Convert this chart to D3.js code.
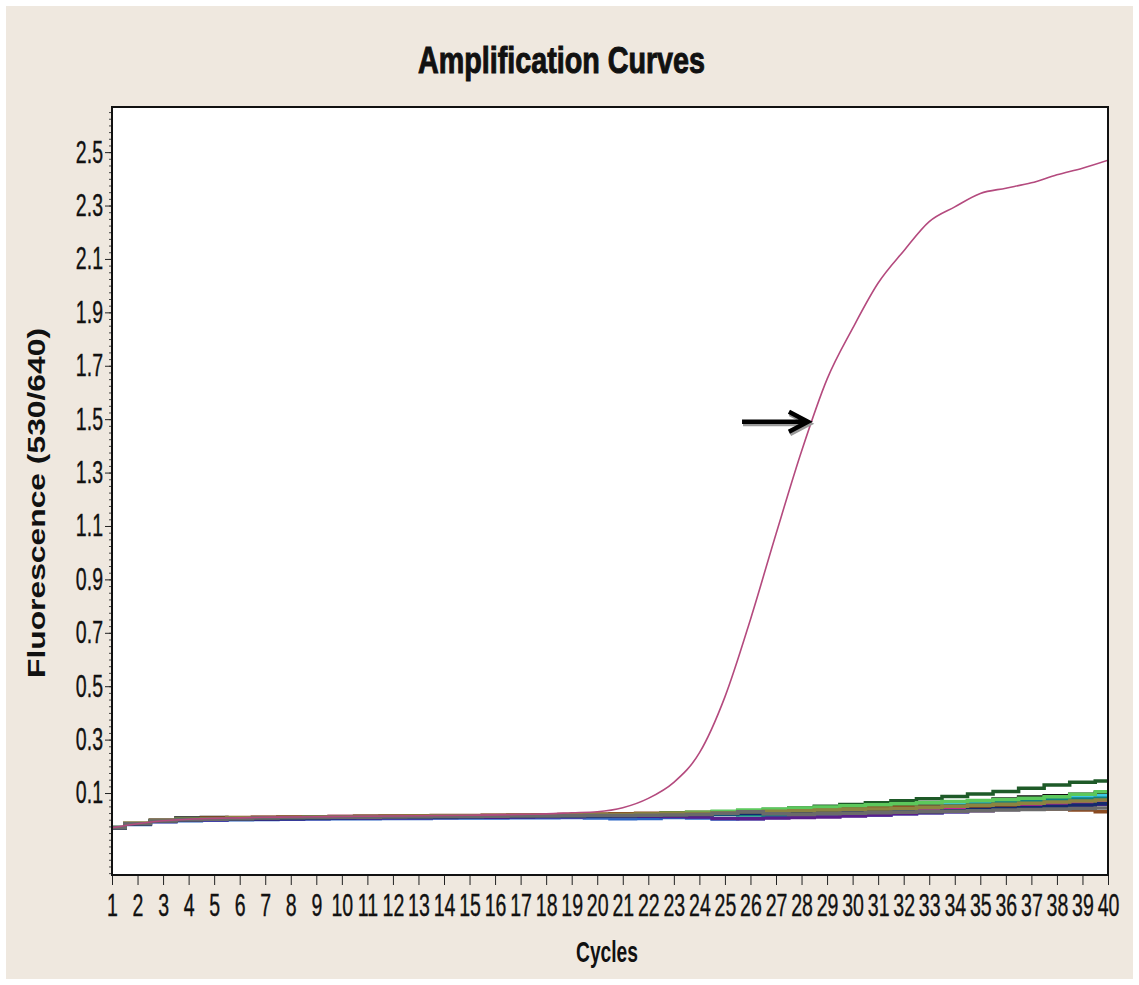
<!DOCTYPE html>
<html>
<head>
<meta charset="utf-8">
<script src="https://cdn.jsdelivr.net/npm/d3@7"></script>
<style>
  body { margin: 0; background: #fff; }
  svg { display: block; }
</style>
</head>
<body>
<svg width="1139" height="985"></svg>
<script>
// cycles on the x axis
var cycles = d3.range(1, 41);
// labelled y ticks
var yTicks = [0.1, 0.3, 0.5, 0.7, 0.9, 1.1, 1.3, 1.5, 1.7, 1.9, 2.1, 2.3, 2.5];

// the amplified sample (pink curve)
var positive = [-0.03, -0.015, -0.004, 0.002, 0.005, 0.007, 0.009, 0.01, 0.011, 0.012,
  0.013, 0.014, 0.015, 0.016, 0.017, 0.018, 0.02, 0.022, 0.026, 0.03,
  0.045, 0.08, 0.14, 0.25, 0.46, 0.75, 1.07, 1.38, 1.65, 1.84,
  2.01, 2.13, 2.24, 2.295, 2.345, 2.365, 2.385, 2.415, 2.44, 2.47];

// negative samples, near the baseline
var neg1 = [-0.03, -0.014, -0.004, 0.0, 0.002, 0.004, 0.005, 0.006, 0.006, 0.007, 0.008, 0.008, 0.009, 0.01, 0.01, 0.011, 0.012, 0.013, 0.014, 0.015, 0.017, 0.019, 0.022, 0.025, 0.029, 0.033, 0.038, 0.044, 0.05, 0.057, 0.064, 0.071, 0.079, 0.087, 0.096, 0.106, 0.118, 0.13, 0.14, 0.145];
var neg2 = [-0.032, -0.016, -0.002, 0.006, 0.008, 0.007, 0.006, 0.008, 0.009, 0.01, 0.012, 0.012, 0.011, 0.01, 0.012, 0.013, 0.014, 0.014, 0.015, 0.016, 0.018, 0.02, 0.022, 0.024, 0.026, 0.028, 0.03, 0.033, 0.036, 0.04, 0.044, 0.05, 0.056, 0.062, 0.07, 0.078, 0.085, 0.09, 0.095, 0.1];
var neg3 = [-0.03, -0.018, -0.008, -0.004, -0.002, 0.0, 0.001, 0.002, 0.003, 0.004, 0.004, 0.005, 0.005, 0.006, 0.006, 0.006, 0.007, 0.007, 0.008, 0.006, 0.004, 0.005, 0.008, 0.006, 0.003, 0.004, 0.008, 0.012, 0.015, 0.016, 0.018, 0.022, 0.026, 0.03, 0.04, 0.048, 0.052, 0.055, 0.06, 0.065];
var neg4 = [-0.028, -0.015, -0.005, 0.0, 0.003, 0.004, 0.005, 0.006, 0.007, 0.007, 0.008, 0.009, 0.01, 0.011, 0.011, 0.012, 0.012, 0.013, 0.013, 0.012, 0.012, 0.013, 0.016, 0.02, 0.028, 0.03, 0.032, 0.034, 0.036, 0.038, 0.04, 0.045, 0.05, 0.056, 0.062, 0.068, 0.074, 0.08, 0.085, 0.09];
var neg5 = [-0.03, -0.017, -0.007, -0.002, 0.0, 0.002, 0.003, 0.004, 0.005, 0.006, 0.006, 0.007, 0.007, 0.008, 0.009, 0.009, 0.01, 0.011, 0.011, 0.012, 0.012, 0.013, 0.012, 0.01, 0.005, 0.004, 0.006, 0.008, 0.01, 0.014, 0.018, 0.022, 0.026, 0.03, 0.034, 0.038, 0.045, 0.05, 0.054, 0.058];
var neg6 = [-0.031, -0.016, -0.006, 0.0, 0.004, 0.006, 0.008, 0.01, 0.011, 0.012, 0.012, 0.013, 0.014, 0.014, 0.015, 0.016, 0.016, 0.017, 0.017, 0.018, 0.018, 0.02, 0.021, 0.022, 0.022, 0.024, 0.024, 0.026, 0.028, 0.032, 0.035, 0.038, 0.042, 0.046, 0.05, 0.053, 0.056, 0.06, 0.062, 0.066];
var neg7 = [-0.029, -0.014, -0.003, 0.003, 0.006, 0.008, 0.009, 0.01, 0.011, 0.012, 0.013, 0.014, 0.015, 0.016, 0.016, 0.017, 0.018, 0.019, 0.02, 0.021, 0.022, 0.024, 0.026, 0.028, 0.03, 0.032, 0.034, 0.036, 0.04, 0.042, 0.045, 0.048, 0.05, 0.052, 0.05, 0.045, 0.042, 0.04, 0.036, 0.03];
var neg8 = [-0.03, -0.015, -0.004, 0.002, 0.004, 0.005, 0.006, 0.007, 0.008, 0.009, 0.01, 0.011, 0.011, 0.012, 0.012, 0.013, 0.014, 0.014, 0.015, 0.015, 0.016, 0.018, 0.02, 0.022, 0.02, 0.018, 0.02, 0.024, 0.028, 0.032, 0.036, 0.04, 0.046, 0.052, 0.058, 0.064, 0.07, 0.075, 0.078, 0.08];
var neg9 = [-0.03, -0.016, -0.005, 0.001, 0.003, 0.005, 0.006, 0.007, 0.008, 0.009, 0.01, 0.01, 0.011, 0.012, 0.013, 0.013, 0.014, 0.015, 0.016, 0.017, 0.018, 0.02, 0.024, 0.028, 0.032, 0.036, 0.04, 0.044, 0.048, 0.052, 0.056, 0.06, 0.064, 0.068, 0.072, 0.076, 0.08, 0.086, 0.095, 0.105];
var neg10 = [-0.032, -0.017, -0.006, -0.001, 0.002, 0.003, 0.004, 0.005, 0.006, 0.007, 0.008, 0.009, 0.01, 0.01, 0.011, 0.012, 0.012, 0.013, 0.014, 0.014, 0.015, 0.016, 0.018, 0.02, 0.022, 0.024, 0.026, 0.028, 0.03, 0.032, 0.03, 0.028, 0.03, 0.034, 0.038, 0.042, 0.046, 0.05, 0.055, 0.06];
var neg11 = [-0.029, -0.013, -0.003, 0.002, 0.005, 0.007, 0.008, 0.009, 0.01, 0.011, 0.012, 0.013, 0.014, 0.015, 0.015, 0.016, 0.017, 0.018, 0.019, 0.02, 0.02, 0.021, 0.022, 0.024, 0.026, 0.03, 0.032, 0.034, 0.036, 0.038, 0.04, 0.042, 0.046, 0.05, 0.054, 0.058, 0.062, 0.066, 0.07, 0.074];
var neg12 = [-0.03, -0.015, -0.005, 0.0, 0.002, 0.004, 0.006, 0.007, 0.008, 0.009, 0.009, 0.01, 0.011, 0.012, 0.012, 0.013, 0.014, 0.014, 0.015, 0.016, 0.016, 0.017, 0.018, 0.02, 0.024, 0.03, 0.022, 0.02, 0.022, 0.024, 0.026, 0.028, 0.03, 0.032, 0.034, 0.036, 0.038, 0.04, 0.042, 0.044];
var negatives = [neg1, neg2, neg3, neg4, neg5, neg6, neg7, neg8, neg9, neg10, neg11, neg12];
var negColors = ["#1e5a28", "#111111", "#2a64c4", "#3cc6e4", "#5a1e8c", "#c02890",
                 "#8a4a20", "#108080", "#5cc85c", "#142a6e", "#8c8440", "#6a6a6a"];

// annotation arrow: [cycle, fluorescence]
var arrowFrom = [25.67, 1.49];
var arrowTo = [28.25, 1.49];

var svg = d3.select("svg"),
    W = +svg.attr("width"),
    H = +svg.attr("height"),
    plot = {left: 112, top: 107, right: 1108, bottom: 875};

var x = d3.scaleLinear().domain([1, 40]).range([plot.left, plot.right]);
var y = d3.scaleLinear().domain([-0.207, 2.669]).range([plot.bottom, plot.top]);

// page frame
svg.append("rect").attr("x", 6).attr("y", 6)
  .attr("width", W - 12).attr("height", H - 12)
  .attr("fill", "#efe8df");

// plot area
svg.append("rect")
  .attr("x", plot.left).attr("y", plot.top)
  .attr("width", plot.right - plot.left).attr("height", plot.bottom - plot.top)
  .attr("fill", "#fff");

svg.append("defs").append("clipPath").attr("id", "clip")
  .append("rect")
  .attr("x", plot.left).attr("y", plot.top)
  .attr("width", plot.right - plot.left).attr("height", plot.bottom - plot.top);

var sx = 0.63; // squeeze for the narrow tick font

// x axis
var xAxis = svg.append("g")
  .attr("transform", "translate(0," + plot.bottom + ")")
  .call(d3.axisBottom(x).tickValues(cycles).tickSize(10).tickPadding(9).tickFormat(d3.format("d")));
xAxis.select(".domain").remove();
xAxis.selectAll("line").attr("stroke", "#222");
xAxis.selectAll("text")
  .attr("font-family", "Liberation Sans, Arial, sans-serif")
  .attr("font-size", 31)
  .attr("fill", "#111")
  .attr("stroke", "#111").attr("stroke-width", 0.4)
  .attr("transform", "scale(" + sx + ",1)");

// y axis, minor ticks first
var minor = d3.range(-0.2, 2.66, 0.025).map(function(v) { return +v.toFixed(3); });
var yMinor = svg.append("g")
  .attr("transform", "translate(" + plot.left + ",0)")
  .call(d3.axisLeft(y).tickValues(minor).tickSize(3).tickFormat(""));
yMinor.select(".domain").remove();
yMinor.selectAll("line").attr("stroke", "#444");

var yAxis = svg.append("g")
  .attr("transform", "translate(" + plot.left + ",0)")
  .call(d3.axisLeft(y).tickValues(yTicks).tickSize(7).tickPadding(2).tickFormat(d3.format(".1f")));
yAxis.select(".domain").remove();
yAxis.selectAll("line").attr("stroke", "#222");
yAxis.selectAll("text")
  .attr("font-family", "Liberation Sans, Arial, sans-serif")
  .attr("font-size", 31)
  .attr("fill", "#111")
  .attr("stroke", "#111").attr("stroke-width", 0.4)
  .attr("x", -9 / sx)
  .attr("transform", "scale(" + sx + ",1)");

// curves
var lines = svg.append("g").attr("clip-path", "url(#clip)");

var stepLine = d3.line()
  .curve(d3.curveStep)
  .x(function(d, i) { return x(cycles[i]); })
  .y(function(d) { return y(d); });

lines.selectAll(".neg")
  .data(negatives)
  .enter().append("path")
  .attr("class", "neg")
  .attr("d", stepLine)
  .attr("fill", "none")
  .attr("stroke", function(d, i) { return negColors[i]; })
  .attr("stroke-width", 3.5);

var smoothLine = d3.line()
  .curve(d3.curveMonotoneX)
  .x(function(d, i) { return x(cycles[i]); })
  .y(function(d) { return y(d); });

lines.append("path")
  .datum(positive)
  .attr("d", smoothLine)
  .attr("fill", "none")
  .attr("stroke", "#b44a7e")
  .attr("stroke-width", 1.6);

// plot border
svg.append("rect")
  .attr("x", plot.left).attr("y", plot.top)
  .attr("width", plot.right - plot.left).attr("height", plot.bottom - plot.top)
  .attr("fill", "none")
  .attr("stroke", "#111")
  .attr("stroke-width", 2);

// arrow annotation
function arrowPath(dx, dy) {
  var x0 = x(arrowFrom[0]) + dx, x1 = x(arrowTo[0]) + dx,
      y0 = y(arrowFrom[1]) + dy;
  return "M" + x0 + "," + y0 + "H" + (x1 - 3) +
         "M" + (x1 - 19) + "," + (y0 - 10) + "L" + x1 + "," + y0 + "L" + (x1 - 19) + "," + (y0 + 10);
}
svg.append("path").attr("d", arrowPath(1, 2))
  .attr("fill", "none").attr("stroke", "#999").attr("stroke-width", 5);
svg.append("path").attr("d", arrowPath(0, 0))
  .attr("fill", "none").attr("stroke", "#000").attr("stroke-width", 4.5);

// titles
svg.append("text")
  .attr("x", 561.5).attr("y", 73)
  .attr("text-anchor", "middle")
  .attr("font-family", "Liberation Sans, Arial, sans-serif")
  .attr("font-weight", "bold")
  .attr("font-size", 37)
  .attr("textLength", 287)
  .attr("lengthAdjust", "spacingAndGlyphs")
  .attr("fill", "#111")
  .attr("stroke", "#111").attr("stroke-width", 1)
  .text("Amplification Curves");

svg.append("text")
  .attr("x", 607).attr("y", 962)
  .attr("text-anchor", "middle")
  .attr("font-family", "Liberation Sans, Arial, sans-serif")
  .attr("font-weight", "bold")
  .attr("font-size", 30)
  .attr("textLength", 62)
  .attr("lengthAdjust", "spacingAndGlyphs")
  .attr("fill", "#111")
  .text("Cycles");

svg.append("text")
  .attr("transform", "translate(45,503) rotate(-90)")
  .attr("text-anchor", "middle")
  .attr("font-family", "Liberation Sans, Arial, sans-serif")
  .attr("font-weight", "bold")
  .attr("font-size", 23)
  .attr("textLength", 350)
  .attr("lengthAdjust", "spacingAndGlyphs")
  .attr("fill", "#111")
  .text("Fluorescence (530/640)");
</script>
</body>
</html>
